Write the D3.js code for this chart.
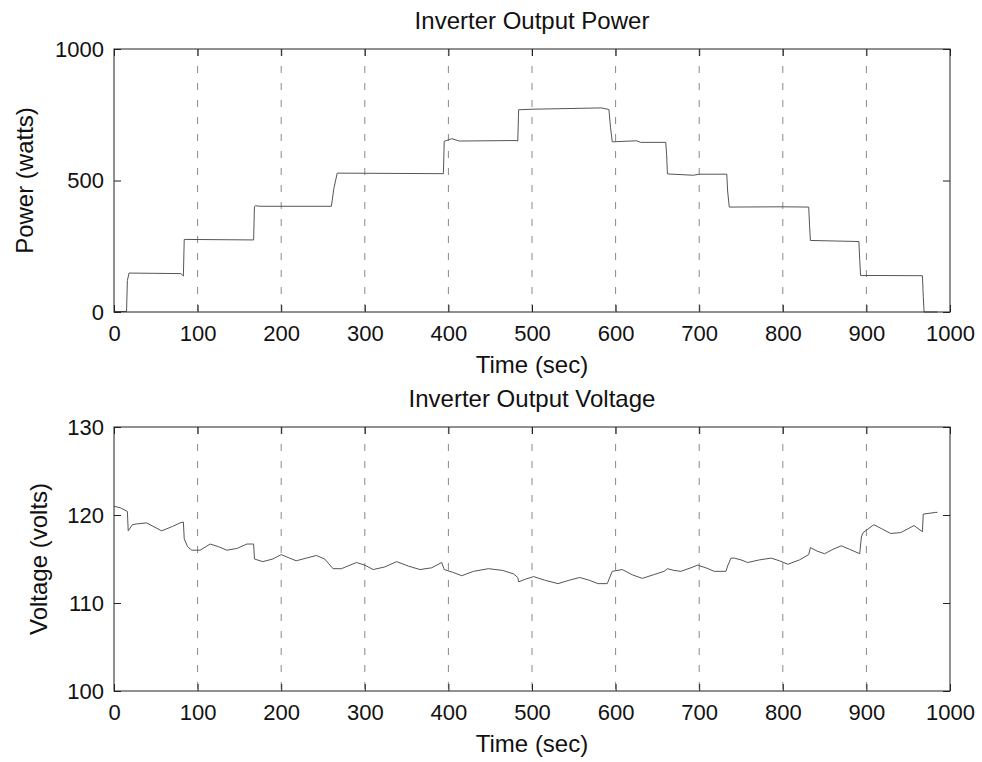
<!DOCTYPE html>
<html>
<head>
<meta charset="utf-8">
<script src="https://cdn.jsdelivr.net/npm/d3@7.9.0/dist/d3.min.js"></script>
<style>
  body { margin: 0; background: #fff; }
  svg { display: block; font-family: "Liberation Sans", Arial, Helvetica, sans-serif; }
</style>
</head>
<body>
<div id="chart"></div>
<script>
// time axis shared by both panels
const timeTicks = [0, 100, 200, 300, 400, 500, 600, 700, 800, 900, 1000];
const powerTicks = [0, 500, 1000];
const voltageTicks = [100, 110, 120, 130];

// inverter output power (watts), stepped profile
const powerTime = [0, 15, 16, 18, 80, 83, 84, 167, 168, 169, 175, 260, 263, 267, 394, 395, 404, 413, 481, 483, 484, 500, 583, 592, 594, 596, 625, 630, 660, 661, 662, 693, 700, 733, 734, 736, 800, 831, 832, 833, 891, 892, 893, 967, 968, 969, 985];
const powerValues = [2, 2, 120, 148, 146, 137, 276, 274, 400, 404, 402, 402, 470, 528, 526, 649, 659, 650, 652, 650, 769, 771, 776, 770, 700, 647, 651, 645, 645, 600, 525, 520, 524, 524, 460, 399, 400, 399, 330, 272, 268, 200, 139, 138, 60, 0, 0];

// inverter output voltage (volts)
const voltageTime = [0, 8, 16, 17, 22, 28, 39, 57, 70, 79, 83, 84, 88, 93, 103, 115, 125, 135, 147, 159, 167, 168, 178, 190, 200, 210, 218, 230, 242, 252, 262, 272, 290, 300, 310, 324, 338, 352, 366, 380, 392, 395, 405, 416, 430, 448, 465, 478, 483, 484, 492, 502, 515, 531, 545, 557, 568, 579, 590, 596, 608, 620, 632, 645, 658, 662, 670, 678, 690, 698, 708, 718, 732, 734, 738, 742, 750, 758, 772, 786, 796, 806, 820, 831, 833, 841, 850, 860, 870, 880, 892, 894, 896, 909, 919, 929, 941, 957, 967, 968, 983, 985];
const voltageValues = [121.0, 120.8, 120.4, 118.2, 118.9, 119.0, 119.1, 118.2, 118.7, 119.1, 119.2, 117.3, 116.4, 116.0, 116.0, 116.7, 116.4, 116.0, 116.2, 116.7, 116.7, 115.0, 114.7, 115.0, 115.5, 115.1, 114.8, 115.1, 115.4, 115.0, 113.9, 113.9, 114.6, 114.3, 113.8, 114.1, 114.7, 114.2, 113.8, 114.0, 114.6, 113.8, 113.5, 113.1, 113.6, 113.9, 113.7, 113.3, 112.9, 112.4, 112.7, 113.0, 112.6, 112.2, 112.6, 112.9, 112.6, 112.2, 112.2, 113.6, 113.8, 113.2, 112.8, 113.2, 113.6, 113.9, 113.7, 113.6, 114.0, 114.3, 114.0, 113.6, 113.6, 114.2, 115.1, 115.1, 114.9, 114.6, 114.9, 115.1, 114.8, 114.4, 114.9, 115.5, 116.3, 115.9, 115.6, 116.1, 116.5, 116.1, 115.6, 117.5, 118.0, 118.9, 118.4, 117.9, 118.0, 118.8, 118.1, 120.1, 120.3, 120.3];

const width = 982;
const height = 762;

const svg = d3.select('#chart')
  .append('svg')
  .attr('width', width)
  .attr('height', height);

function renderPanel(opts) {
  const { top, bottom, left, right, yDomain, yTicks, xs, ys, title, yLabel, yLabelX } = opts;

  const x = d3.scaleLinear().domain([0, 1000]).range([left, right]);
  const y = d3.scaleLinear().domain(yDomain).range([bottom, top]);

  const g = svg.append('g');

  // vertical grid (dotted, like matlab grid)
  g.append('g')
    .selectAll('line')
    .data(timeTicks.slice(1, -1))
    .join('line')
    .attr('x1', (d) => x(d))
    .attr('x2', (d) => x(d))
    .attr('y1', top)
    .attr('y2', bottom)
    .attr('stroke', '#888')
    .attr('stroke-width', 1)
    .attr('stroke-dasharray', '7,10');

  const line = d3.line()
    .x((d, i) => x(xs[i]))
    .y((d, i) => y(ys[i]));

  g.append('path')
    .datum(xs)
    .attr('d', line)
    .attr('fill', 'none')
    .attr('stroke', '#555')
    .attr('stroke-width', 1);

  const fmt = d3.format('d');

  // axes with inward ticks
  const bottomAxis = g.append('g')
    .attr('transform', `translate(0, ${bottom})`)
    .call(d3.axisBottom(x).tickValues(timeTicks).tickFormat(fmt).tickSize(-7).tickPadding(13));
  g.append('g')
    .attr('transform', `translate(0, ${top})`)
    .call(d3.axisTop(x).tickValues(timeTicks).tickSize(-7).tickFormat(''));
  const leftAxis = g.append('g')
    .attr('transform', `translate(${left}, 0)`)
    .call(d3.axisLeft(y).tickValues(yTicks).tickFormat(fmt).tickSize(-7).tickPadding(10));
  g.append('g')
    .attr('transform', `translate(${right}, 0)`)
    .call(d3.axisRight(y).tickValues(yTicks).tickSize(-7).tickFormat(''));

  g.selectAll('.domain').remove();
  g.selectAll('.tick line').attr('stroke', '#222');
  [bottomAxis, leftAxis].forEach((a) => a
    .attr('font-family', null)
    .attr('font-size', 22)
    .selectAll('text')
    .attr('fill', '#111'));

  g.append('rect')
    .attr('x', left)
    .attr('y', top)
    .attr('width', right - left)
    .attr('height', bottom - top)
    .attr('fill', 'none')
    .attr('stroke', '#222')
    .attr('stroke-width', 1);

  g.append('text')
    .attr('x', (left + right) / 2)
    .attr('y', top - 20)
    .attr('text-anchor', 'middle')
    .attr('font-size', 24)
    .attr('fill', '#111')
    .text(title);

  g.append('text')
    .attr('x', (left + right) / 2)
    .attr('y', bottom + 61)
    .attr('text-anchor', 'middle')
    .attr('font-size', 24)
    .attr('fill', '#111')
    .text('Time (sec)');

  g.append('text')
    .attr('transform', `translate(${yLabelX}, ${(top + bottom) / 2}) rotate(-90)`)
    .attr('text-anchor', 'middle')
    .attr('font-size', 24)
    .attr('fill', '#111')
    .text(yLabel);
}

renderPanel({
  top: 49, bottom: 312, left: 114, right: 950,
  yDomain: [0, 1000], yTicks: powerTicks,
  xs: powerTime, ys: powerValues,
  title: 'Inverter Output Power', yLabel: 'Power (watts)', yLabelX: 33,
});

renderPanel({
  top: 427, bottom: 691, left: 114, right: 950,
  yDomain: [100, 130], yTicks: voltageTicks,
  xs: voltageTime, ys: voltageValues,
  title: 'Inverter Output Voltage', yLabel: 'Voltage (volts)', yLabelX: 47,
});
</script>
</body>
</html>
